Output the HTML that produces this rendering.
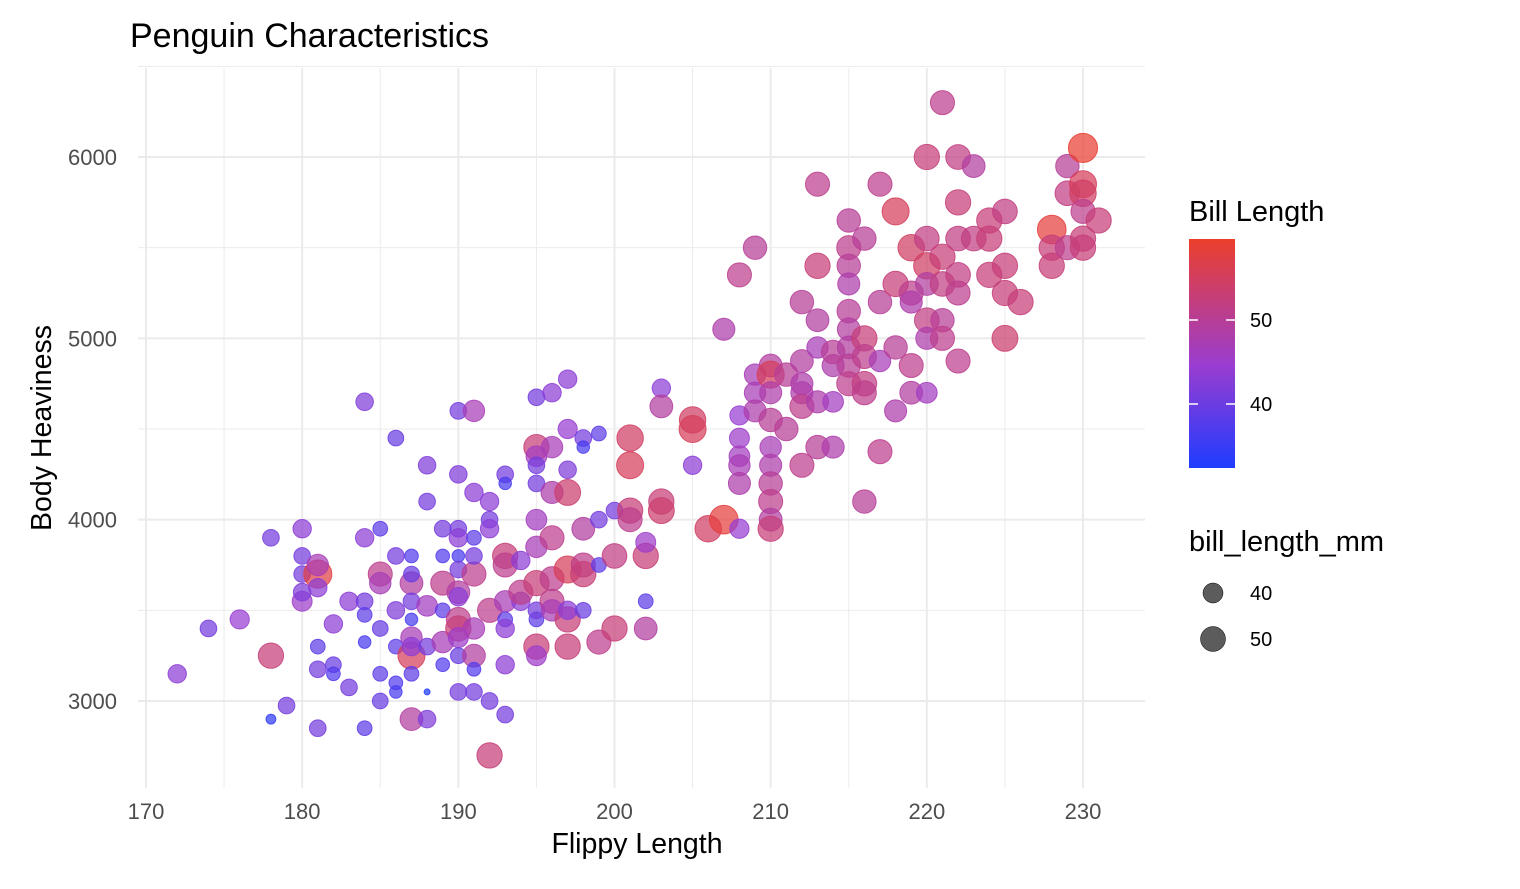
<!DOCTYPE html>
<html><head><meta charset="utf-8"><style>
body{margin:0;background:#fff;font-family:"Liberation Sans",Arial,sans-serif;}
svg text{font-family:"Liberation Sans",Arial,sans-serif;}
</style></head><body>
<svg id="chart" width="1520" height="884" viewBox="0 0 1520 884" xmlns="http://www.w3.org/2000/svg">
<rect width="1520" height="884" fill="#fff"/>
<g id="grid"></g>
<g id="points"></g>
<g id="axes"></g>
<text x="130" y="47" font-size="34" fill="#000">Penguin Characteristics</text>
<text x="637" y="853" font-size="28.5" text-anchor="middle" fill="#000">Flippy Length</text>
<text transform="translate(51,428) rotate(-90)" font-size="28.5" text-anchor="middle" fill="#000">Body Heaviness</text>
<g>
<text x="1189" y="221" font-size="29" fill="#000">Bill Length</text>
<defs><linearGradient id="cg" x1="0" y1="1" x2="0" y2="0">
<stop offset="0" stop-color="#1f3cff"/><stop offset="0.45" stop-color="#9a3dd0"/><stop offset="1" stop-color="#ec3f2c"/></linearGradient></defs>
<rect x="1189" y="239" width="46" height="229" fill="url(#cg)"/>
<line x1="1189" x2="1198" y1="320" y2="320" stroke="#fff" stroke-width="1.5"/><line x1="1226" x2="1235" y1="320" y2="320" stroke="#fff" stroke-width="1.5"/>
<line x1="1189" x2="1198" y1="404" y2="404" stroke="#fff" stroke-width="1.5"/><line x1="1226" x2="1235" y1="404" y2="404" stroke="#fff" stroke-width="1.5"/>
<text x="1250" y="327" font-size="20" fill="#000">50</text>
<text x="1250" y="411" font-size="20" fill="#000">40</text>
</g>
<g>
<text x="1189" y="551" font-size="29" fill="#000">bill_length_mm</text>
<circle cx="1213" cy="593" r="10" fill="#333" fill-opacity="0.8" stroke="#000" stroke-width="0.5"/>
<circle cx="1213" cy="639" r="12.5" fill="#333" fill-opacity="0.8" stroke="#000" stroke-width="0.5"/>
<text x="1250" y="600" font-size="20" fill="#000">40</text>
<text x="1250" y="646" font-size="20" fill="#000">50</text>
</g>
</svg>
<script>
const xTicks=[170,180,190,200,210,220,230];
const yTicks=[3000,4000,5000,6000];
const flipper=[172,174,176,178,178,178,179,180,180,180,180,180,181,181,181,181,181,181,182,182,182,183,183,184,184,184,184,184,184,185,185,185,185,185,185,186,186,186,186,186,186,187,187,187,187,187,187,187,187,187,187,188,188,188,188,188,188,189,189,189,189,189,189,190,190,190,190,190,190,190,190,190,190,190,190,190,191,191,191,191,191,191,191,191,191,192,192,192,192,192,192,193,193,193,193,193,193,193,193,193,194,194,194,195,195,195,195,195,195,195,195,195,195,195,195,196,196,196,196,196,196,196,197,197,197,197,197,197,197,197,198,198,198,198,198,198,199,199,199,199,200,200,200,201,201,201,201,202,202,202,202,203,203,203,203,205,205,205,206,207,207,208,208,208,208,208,208,208,209,209,209,209,210,210,210,210,210,210,210,210,210,210,211,211,212,212,212,212,212,212,213,213,213,213,213,213,214,214,214,214,215,215,215,215,215,215,215,215,215,216,216,216,216,216,216,217,217,217,217,218,218,218,218,219,219,219,219,219,220,220,220,220,220,220,220,221,221,221,221,221,222,222,222,222,222,222,223,223,224,224,224,225,225,225,225,226,228,228,228,229,229,229,230,230,230,230,230,230,231];
const mass=[3150,3400,3450,2900,3250,3900,2975,3550,3600,3700,3800,3950,3700,3750,3625,3300,3175,2850,3200,3150,3425,3075,3550,3900,3325,2850,4650,3550,3475,3700,3650,3950,3400,3000,3150,3800,4450,3500,3100,3050,3300,3800,3650,3450,3250,3350,2900,3150,3550,3300,3700,2900,3300,3525,4100,4300,3050,3650,3950,3800,3500,3200,3325,4600,4250,3950,3900,3800,3725,3450,3400,3600,3050,3575,3350,3250,4600,4150,3700,3800,3900,3400,3250,3175,3050,3500,2700,4100,4000,3950,3000,4250,4200,3800,3750,3550,3450,3400,3200,2925,3775,3550,3600,4675,4400,4350,4300,4200,4000,3850,3650,3450,3300,3250,3500,4700,4400,4150,3900,3675,3550,3500,4775,4500,4275,4150,3725,3450,3300,3500,4450,4400,3950,3750,3700,3500,4475,4000,3750,3325,4050,3800,3400,4450,4300,4050,4000,3550,3400,3800,3875,4725,4625,4100,4050,4550,4500,4300,3950,4000,5050,5350,4450,4575,4350,4300,4200,3950,5500,4800,4700,4600,4850,4800,4700,4400,4300,4200,4100,4000,3950,4550,4800,4500,5200,4875,4750,4700,4625,4300,5850,5400,5100,4950,4650,4400,4650,4400,4850,4925,5650,5500,5400,5300,5150,5050,4950,4850,4750,5550,5000,4900,4750,4700,4100,5850,5200,4875,4375,5700,5300,4950,4600,5500,5250,5200,4850,4700,6000,5550,5400,5300,5100,5000,4700,6300,5450,5300,5100,5000,6000,5750,5550,5350,5250,4875,5950,5550,5650,5550,5350,5700,5400,5250,5000,5200,5600,5500,5400,5950,5800,5500,6050,5850,5800,5700,5550,5500,5650];
const billLength=[42,40,43,34,52,40,40,44,41,40,40,42,57,46,42,38,40,40,39,37,42,40,42,42,36,38,41,40,38,50,46,38,39,39,38,40,39,41,37,36,38,37,48,36,55,46,48,38,40,42,39,41,40,45,40,41,32,50,40,37,38,37,46,40,41,40,42,36,40,50,52,48,40,42,44,39,46,42,50,40,38,46,48,37,40,50,52,42,40,42,40,40,36,52,50,46,38,42,42,40,42,42,50,40,52,45,40,40,45,46,52,38,52,44,40,42,46,47,50,50,50,46,42,43,41,53,55,52,52,42,40,36,48,50,52,39,38,40,38,50,40,51,52,54,55,52,50,38,48,52,44,42,48,52,53,54,55,42,54,58,47,50,44,43,45,46,47,43,49,46,46,47,48,55,47,46,47,49,50,48,52,49,49,49,49,48,47,47,50,50,50,52,48,46,47,49,45,47,47,49,49,50,49,47,49,48,48,49,50,49,52,50,51,50,49,50,49,46,50,55,52,49,47,54,50,47,50,48,52,51,54,48,51,47,45,50,52,51,49,50,51,52,51,51,50,50,48,51,52,52,52,51,52,52,53,52,58,52,52,49,51,50,59,55,54,50,52,52,52];

const NS="http://www.w3.org/2000/svg";
const X=v=>146+(v-170)*(1083-146)/60;
const Y=v=>701-(v-3000)*(701-157)/3000;
const PL=138,PR=1145,PT=68,PB=788;
function mk(t,a,p){const e=document.createElementNS(NS,t);for(const k in a)e.setAttribute(k,a[k]);p.appendChild(e);return e;}
const grid=document.getElementById('grid');
for(let v=165;v<=235;v+=5){const x=X(v);if(x<PL||x>PR)continue;const major=v%10===0;
 const l=mk('line',{x1:x,x2:x,y1:PT,y2:PB,stroke:'#ebebeb','stroke-width':major?2:1},grid);
 
 }
for(let v=2500;v<=6500;v+=500){const y=Y(v);if(y<PT-3||y>PB)continue;const major=v%1000===0;
 const l=mk('line',{x1:PL,x2:PR,y1:y,y2:y,stroke:'#ebebeb','stroke-width':major?2:1},grid);
 
 }
const axes=document.getElementById('axes');
xTicks.forEach(v=>{const t=mk('text',{x:X(v),y:819,'font-size':22,fill:'#4d4d4d','text-anchor':'middle'},axes);t.textContent=v;
 
 });
yTicks.forEach(v=>{const t=mk('text',{x:117,y:Y(v)+8,'font-size':22,fill:'#4d4d4d','text-anchor':'end'},axes);t.textContent=v;
 
 });
function lerp(a,b,t){return a.map((v,i)=>Math.round(v+(b[i]-v)*t));}
function color(b){const lo=32.4,hi=59.6,t=Math.max(0,Math.min(1,(b-lo)/(hi-lo)));
 const c0=[31,60,255],c1=[154,61,208],c2=[236,63,44];
 const c=t<0.4?lerp(c0,c1,t/0.4):lerp(c1,c2,(t-0.4)/0.6);return `rgb(${c})`;}
function radius(b){const t=Math.max(0,(b-32)/(60-32));return Math.sqrt(9+(220-9)*t);}
const pts=document.getElementById('points');
flipper.forEach((f,i)=>{const col=color(billLength[i]);const c=mk('circle',{cx:X(f),cy:Y(mass[i]),r:radius(billLength[i]),fill:col,'fill-opacity':0.72,stroke:col,'stroke-opacity':0.85,'stroke-width':1},pts);
 
 });
</script>
</body></html>
